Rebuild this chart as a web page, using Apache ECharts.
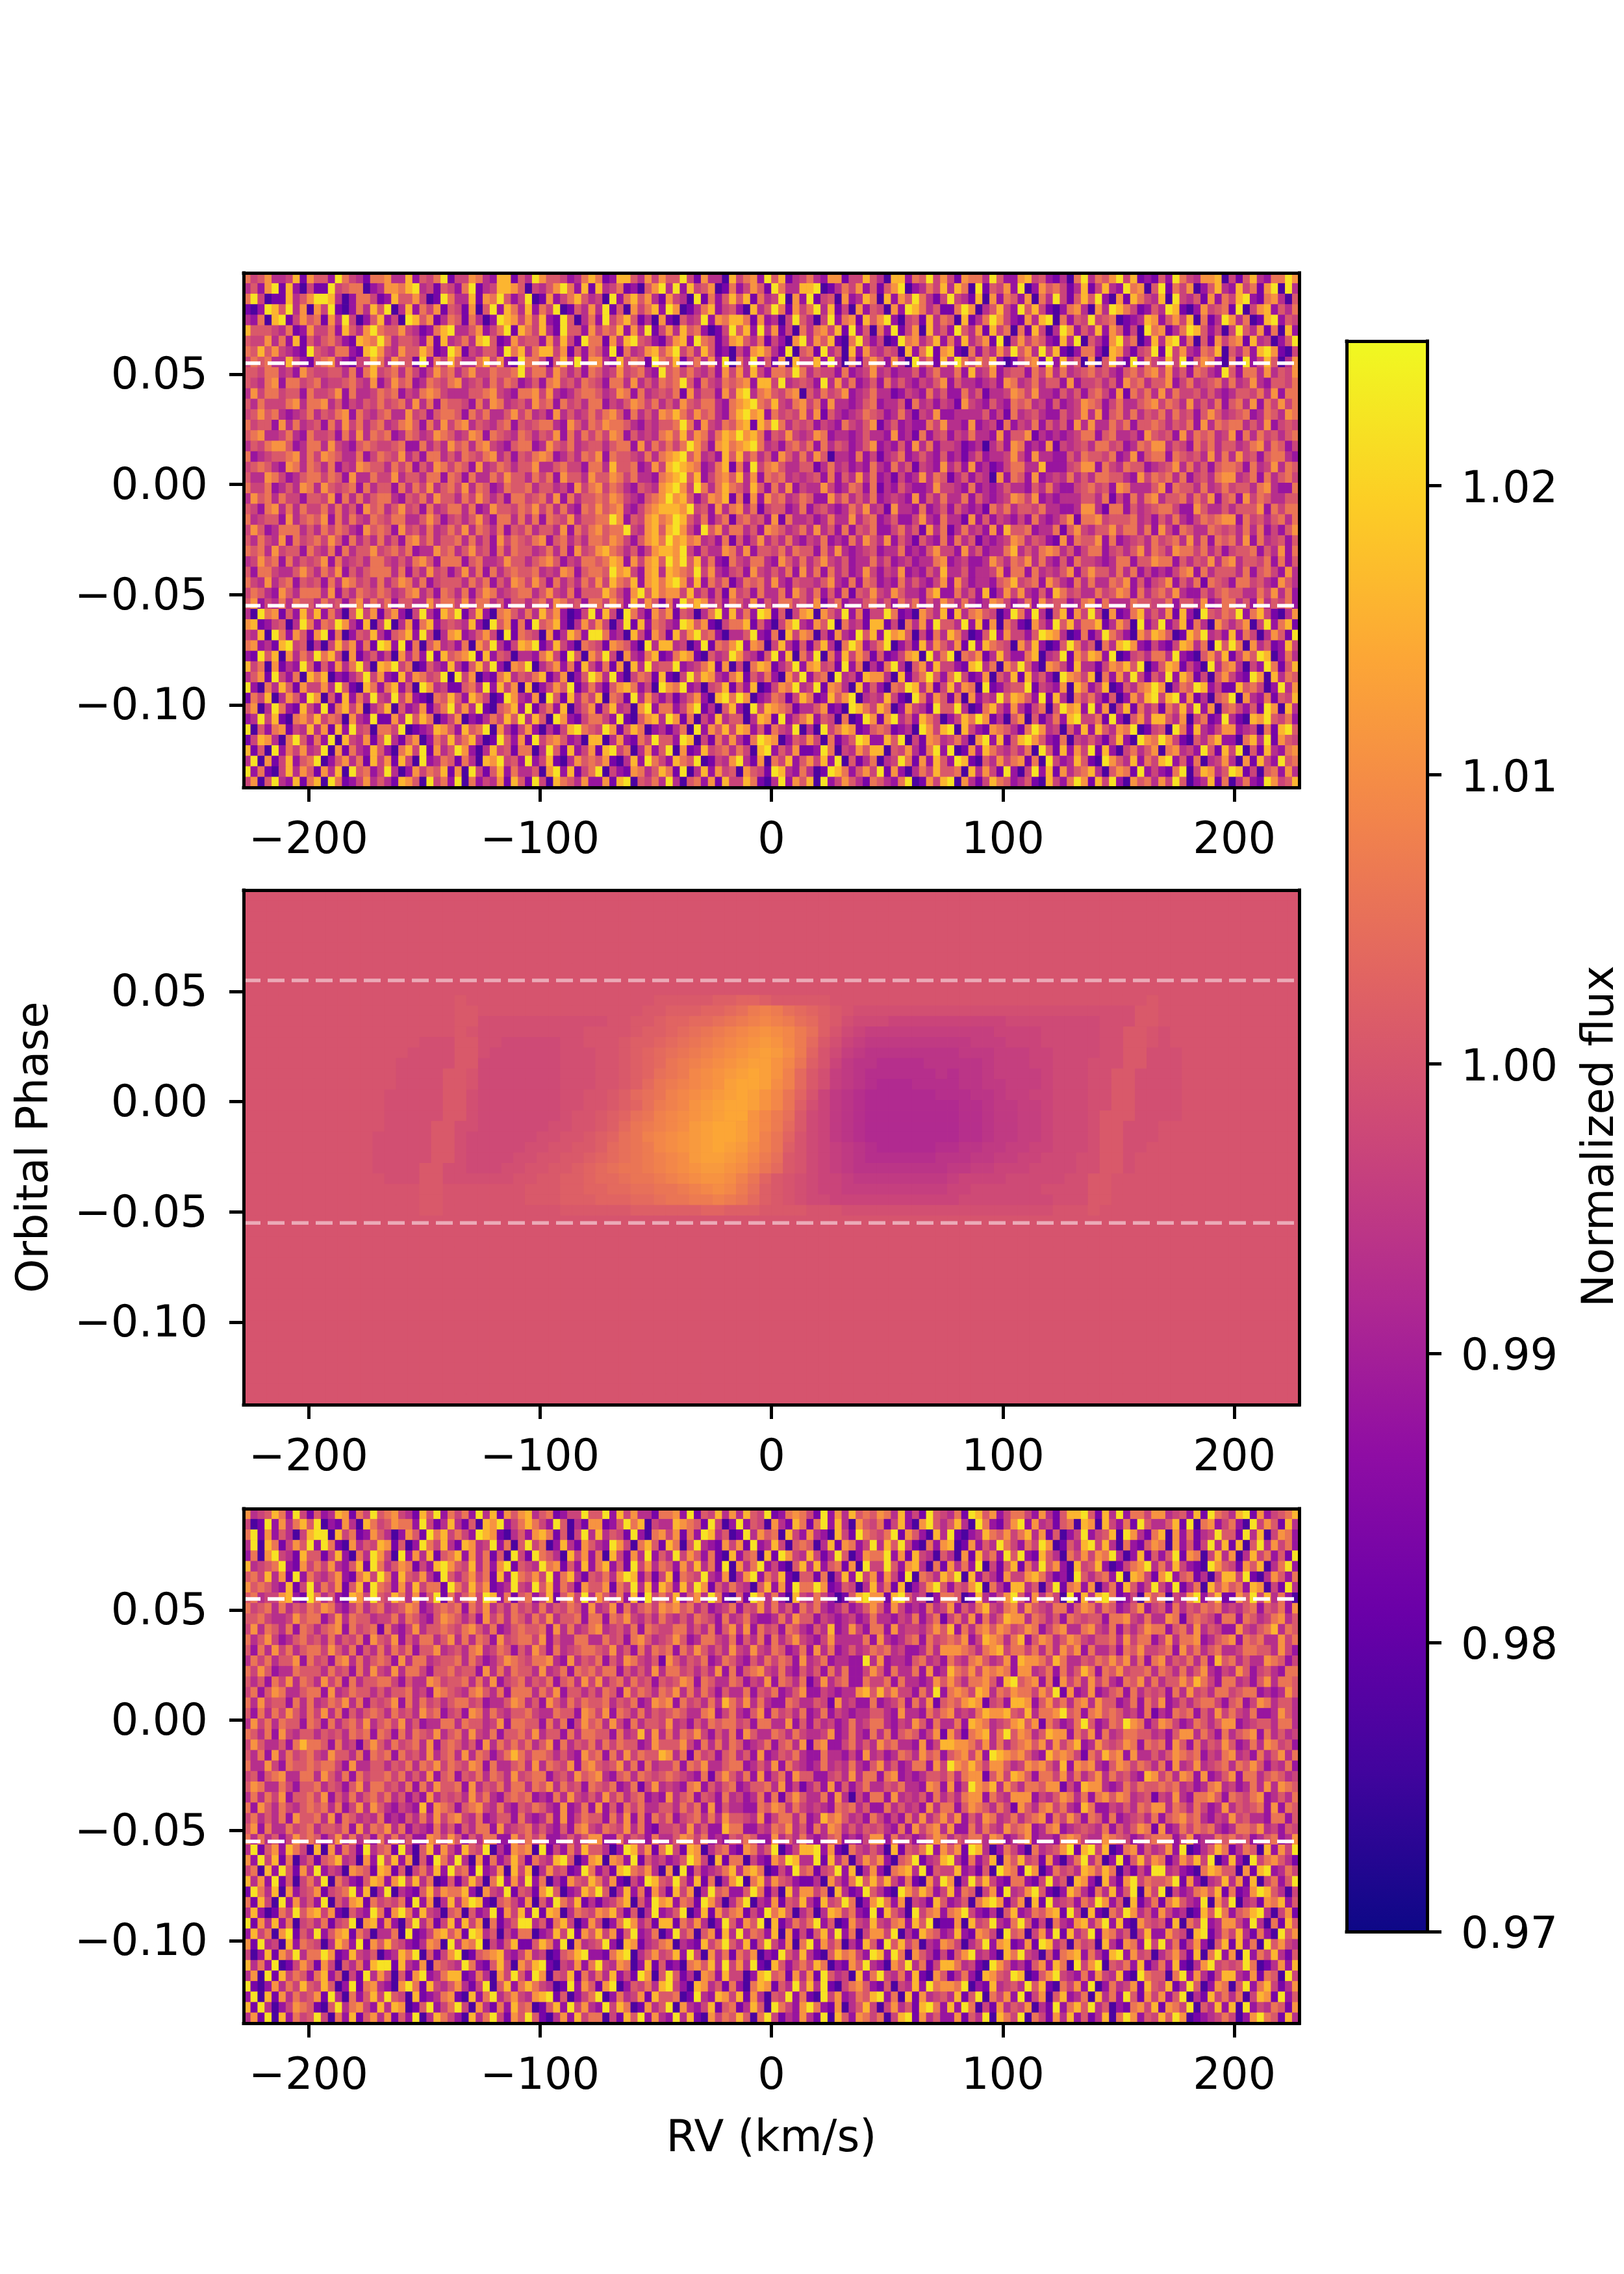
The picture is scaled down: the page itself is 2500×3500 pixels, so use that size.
<!DOCTYPE html>
<html>
<head>
<meta charset="utf-8">
<title>Normalized flux maps</title>
<script src="https://cdn.jsdelivr.net/npm/echarts@6/dist/echarts.min.js"></script>
<style>
  html, body { margin: 0; padding: 0; background: #fff; }
  #main { width: 2500px; height: 3500px; }
</style>
</head>
<body>
<div id="main"></div>
<script>
// Axis ranges and ticks
const rvRange = [-228, 228];
const phaseRange = [-0.1375, 0.096];
const fluxRange = [0.97, 1.025];
const rvTicks = [-200, -100, 0, 100, 200];
const phaseTicks = [-0.1, -0.05, 0, 0.05];
const fluxTicks = [0.97, 0.98, 0.99, 1.0, 1.01, 1.02];
const transitPhases = [0.055, -0.055];

const plasma = ["#0d0887", "#41049d", "#6a00a8", "#8f0da4", "#b12a90", "#cc4778",
  "#e16462", "#f2844b", "#fca636", "#fcce25", "#f0f921"];

// Digit in the noisy panels -> flux
const noiseLevels = [0.977, 0.983, 0.988, 0.993, 0.997, 1.001, 1.006, 1.011, 1.016, 1.022];
// Letter in the model panel -> flux
const modelLevels = { a: 0.99, b: 0.991, c: 0.992, d: 0.993, e: 0.994, f: 0.995, g: 0.996, h: 0.997, i: 0.998, j: 0.999,
  k: 1.0, l: 1.001, m: 1.002, n: 1.003, o: 1.004, p: 1.005, q: 1.006, r: 1.007, s: 1.008, t: 1.009,
  u: 1.01, v: 1.011, w: 1.012, x: 1.013, y: 1.014 };

const observedRows = [
"6457334817 5529643166 7338254691 4476328815 3975542368 6128853747 5594173308 4672958134 6327714485 3088265947 4176639522 7845213069 3657948121 5296437780 4158326697",
"3527918204 1194566023 7768934154 2691348875 0435796281 8346120579 3928457016 2475196338 8901364725 1579023648 3860915472 9027564138 1483296705 9164702583 2846179093",
"6940118357 9983026641 2855740196 3381769524 9017246853 4092685731 7430916258 5816349072 9145072386 0827596314 9431807265 2706394158 5920718643 8094351726 4892167305",
"1029859370 7491026385 9038264715 4170592863 8264901537 3915074682 9701368245 2083596174 6938140725 4072986351 1697035842 9584102673 0739864125 3981027456 1904782536",
"3260891475 6173940258 2409857136 5163029874 7482195036 2946851307 1053492768 8617230495 3049267185 7920451836 5081369742 1738906254 9456012387 2574806139 7360189254",
"8555436127 4462853796 5574312689 3357246918 6483195527 4658273914 7385620149 5829371406 3674819250 6291470835 2953718460 6184039725 3827514096 7136985240 4953716082",
"5447362815 3564218769 6355427183 4638951274 5527384196 6173895421 4782965137 8536142079 3758106942 4019673582 6283571904 7465218390 5317946028 3892605174 6718340259",
"6585743219 5436621897 4375586129 7143552968 3688471526 5291634785 7946385120 4278631905 6193508274 3540826917 8106253749 5739481026 6208731459 1947326580 5362897104",
"4656338421 5673214486 3755192648 5336847219 6641583927 7328465196 5814637290 6392517084 4829306157 5273094618 3964758201 4671928350 7058319264 3849157620 6192485037",
"5546634275 4455362684 5636424756 3574465569 4663753526 5347456329 5646435274 7384266596 3544262347 3423352463 3628347245 5264736345 6453256467 4735265329 5266373547",
"5436726645 6344564372 4756236546 7345364652 3526745365 4266373536 5695264365 6728849345 4293736235 2635324357 2533234276 3463552724 4535275635 5724634563 6347325546",
"3746645526 4457263346 5624367643 3355674326 6747323566 5347626345 4617355274 8936754670 5364572346 3312432635 2263513347 6473325352 5642716463 7364453532 3554637266",
"5364446736 6735243546 4563736265 5426376345 3756264536 6243576463 5375466326 7896584367 4627332356 2335163424 3174325326 5634252347 6524633567 4653735362 5637264746",
"4575632346 3546726435 6337452566 5264633574 6342735346 4675263537 6864756326 8978264547 3715323465 4236314372 2333352416 3453225347 3725636354 6364525753 4562365376",
"6455273634 5263746356 3467526374 6735435625 4566327536 5766532435 5696274365 7818696354 5243264357 1352322647 3327234162 4362535273 7336462556 5354627365 6635372454",
"5673346326 4452637365 6236534765 3476265436 5354726364 6476253436 7584763687 9786254743 4762332353 3272316245 2436332725 5713232346 6256334275 4527365634 7263645356",
"3546775236 6374325654 4562263537 5636743256 6237546345 5356627364 6469752786 7896342564 6263542357 2325273624 4312303527 6232714345 3664523657 7354264635 5346736524",
"6234556736 4765336246 5473526635 3654673525 4676235365 7265543636 7895734285 8463527536 3750332624 1346235325 2313523347 4273322536 5546237256 6265453736 3745256632",
"4565327636 5362437655 3646253764 6527346535 5733564426 6385562374 8987623681 6294675335 5136342326 3263514327 3527231246 6338222457 7264365523 4573635256 6526347365",
"5337642356 6465273364 4735536626 5263364755 3646275537 5576463326 7895824675 8372656343 4526253736 2314237365 1352430726 5272343635 3665532746 5636245367 7346263564",
"6446235376 3754562635 5263647356 4736523655 6355342746 7465325437 8974963686 5385263724 3374236526 1325322374 4326232353 3253632245 6452763335 7265536346 4553673226",
"3756364425 5472636356 6325463755 3647535266 4563726355 6576432567 9785247681 6172756346 5227463536 2343272536 3362532347 6472323335 5361426367 3556364725 6274653355",
"5426736364 4636352756 3574526346 6362375546 5746363265 7567324678 8879452736 7361455236 2453236473 4173326235 2532316463 5546332237 7316625345 6642275335 3555726466",
"6345527356 5726364365 4663357524 5357426636 3626547355 6697254786 7985362461 5645271633 4236337356 2352247326 3317252432 4263235716 6745556342 5363246567 7264535636",
"4752366635 3646532756 5274536346 4736536254 6355372646 7566943785 8974295736 6352765346 3735262546 2246351736 1363427285 5623361574 3557466362 7426533654 5363624257",
"5364372645 6475263536 3526746355 6363527465 4672563536 6576425786 9786734261 5247353632 4362326375 3725315326 2635132347 6354217265 5726234536 4563736265 6372634525",
"6563745526 4362635574 5646233756 3574526365 5346362745 7865352478 8794253376 3725546365 5263732345 2336232574 4273523368 3536763524 6624535736 5376646352 4556253726",
"3475626354 5726345366 4353675266 6256334755 3567524366 5687274785 9795836216 4366327536 3574352336 3523423367 2342237536 5736325264 4323662557 6625354736 7355462625",
"5266433575 3647253566 6362537452 4736263565 5634376256 6597842783 8765947324 5274353627 3626352374 2437232538 3352334726 6263435725 7553636242 3246726355 5362564273",
"6437356254 5263764536 3576362455 5364625376 4752635364 7486582786 8973826461 3656373254 4357326265 2326353247 2742332568 4562753263 6336572524 5725361654 2664532753",
"4653275366 6372536546 5346735265 3625763456 6357436255 5864279586 7748352517 4526336275 3625261547 4375332682 2635281374 7325286453 3645762635 6473225356 5533647362",
"5724363655 3645257364 6255337466 4736635255 3563764526 6475283751 6296873526 5372536645 3714623356 3526462537 5363237642 3627455236 7263336554 4625537236 6352735462",
"3096715284 8263059471 5720493186 9148206753 6385720149 2840963175 7154036928 3629815047 8075392614 4961207538 1836754029 6293058174 9407126835 3718209546 5926841037",
"7812450396 2659731804 9037168245 4382095716 1956820374 7403918265 3298571046 6815204793 2759063418 8140637295 5392817064 1074295836 6813750924 9248163075 3570492681",
"4380962751 7916025483 1568294037 8235740916 5407138629 9623084175 1847956203 3592160847 6041732958 2978504163 8630159274 4259873016 1396420758 7501869342 8264037519",
"6723189450 3048572619 8291605734 2607593148 7913842065 4176520938 8340291657 9276048315 1583069724 6902418375 3719286540 7482015963 5063897214 2148736095 9607351284",
"2195807364 9684071352 4073629185 6791825403 3268419507 5940732681 2687105349 7431592806 3906284751 5124780936 9065713842 2680349175 8729014536 6392105748 1475980263",
"8460713295 1527369408 7946015328 3158492076 9035726184 2617083945 5923468170 4068713592 7845192603 1693057284 4218936075 9520764183 3147685902 5871420936 7304296158",
"3571942608 6802135947 2183764590 9470216835 4681370259 7392046518 1049587326 8153620749 2560934187 7308146952 6941270538 1835209764 8062739415 3928614057 4219708365",
"9206385174 4739510862 6825097341 1563928470 8024759136 3157862409 7692304581 5280147693 4917630825 2065983714 8376091245 5914327086 2480153679 7036598241 1856402937",
"1648037529 7051826394 3947210658 5286401973 2709518364 8065193742 4135720896 9702365148 6128579034 3841096275 1607243958 7529183064 6315027489 4892713056 9073261548",
"5703962184 2916847035 8052371469 4739105682 9146280357 1583407926 6247913058 2094876513 3571209864 8602743195 5930168427 3146059782 9270481635 1648392705 6425197083",
"2394810675 8465073291 1739586024 7021364859 3850972146 6429105783 9716042835 5038719246 8254060197 1793528640 2486971305 7051362894 4619205738 8537046129 3108795462",
"9052671438 3718294506 6490123875 2856907314 7203148965 4971586023 1360927584 8725164390 3094687125 6512309748 9084217653 1697340528 2853769014 5096183247 7234061895",
"1487306952 6290843715 9315702648 4683019527 1946752308 8037216495 5298041637 3169870254 7406135982 2859041763 4630792815 8975216043 5314820976 9741053682 2068391754",
"8150926473 4907163285 2068491735 9720384516 6039518247 1894603725 9071284563 6408925371 1296043758 8054731692 9017286435 3609518274 9182046357 0673429518 4905183267",
"3907148256 9025736184 7184092365 1630879452 9248103756 5710382964 2865901437 9317064825 7482905136 0349617285 2981053746 7160942385 1097538264 8925160347 3071842956",
"9261048375 1738095624 9302746581 7094158263 3507928146 9042176358 6190382745 0754198326 3019862574 9172036485 5608374192 0492817356 8305761924 2169048735 9814056273",
"4705932816 8096124735 3187509462 9062437185 1940865372 2718905463 9305627184 4861039275 8092475316 5326901748 9073148652 3510842697 1849207563 7495023816 0362197458"
];

// Model panel, only rows 10-30 differ from the flat 1.00 background
const modelFirstRow = 10;
const modelRowCount = 49;
const modelRows = [
"kkkkkkkkkk kkkkkkkklk kkkkkkkkkk kkkkklllll mmnnmlllll kkkkkkkkkk kkkkkkkkkk kkkkkkklkk kkkkkkkkkk",
"kkkkkkkkkk kkkkkkkkll kkkkkkkkkk kkkkllmmmn noprsrponm lkjjjjjjjj jjjjjjjjjj jjjjjjllkk kkkkkkkkkk",
"kkkkkkkkkk kkkkkkkkll jjjjjjjjjj jkkllmnnoo pqrstsrpom ljiiihhhhh hhhhhiiiii iiijjjllkk kkkkkkkkkk",
"kkkkkkkkkk kkkkkkkklk jjjjjjjjjk kkklmmnopq rstuvutrpm kihggggggg gggghhhhii iiijjllkjk kkkkkkkkkk",
"kkkkkkkkkk kkkkkjjjll jjiiiiijjk kklmmnopqr stuvwvtrol jhgfffffff ffggghhhii iiijjllkjk kkkkkkkkkk",
"kkkkkkkkkk kkkkjjjjll jiiiiiijjj kklmnopqrs tuvwxwurnk igfeeeeeee efffggghhi iiijjlljjj kkkkkkkkkk",
"kkkkkkkkkk kkkjjjjjll iiiiiiijjj kklmnoqrst uvwxxvtqmk hfeeddddee eeefggghhi iijjjlljjj kkkkkkkkkk",
"kkkkkkkkkk kkkjjjjllk iiiiiiijjj kklmnpqrtu vwxyxvsolj gfedddddde deefgggghi iijjlljjjj kkkkkkkkkk",
"kkkkkkkkkk kkkjjjjllk iiiiiiijjj kklmoqrstu vxyyxusolj gfedcccddd deeffggghi iijjlljjjj kkkkkkkkkk",
"kkkkkkkkkk kkjjjjjllj iiiiiiijjk klmopqstuv wxyxvtqnkh fedccccccd ddeefgghhi iijjlljjjj kkkkkkkkkk",
"kkkkkkkkkk kkjjjjjllj iiiiiiijjk klmnprstvw xyyxvtqmjh fedccccccc cddeffgghi iijjlljjjj kkkkkkkkkk",
"kkkkkkkkkk kkjjjjjllj iiiiiiijkk lmnpqstuvw xyyvtrplih fedccccccc cddeffgghi iijllljjjj kkkkkkkkkk",
"kkkkkkkkkk kkjjjjlljj iiiiiijjkk lmoqrstuwx yyxvtrolih fedccccccc cddeffgghi iijlljjjkk kkkkkkkkkk",
"kkkkkkkkkk kjjjjjllji iiiiijjkkl mnpqstuvwx yyxvsqnkih fedccccccc cddeffgghi iijlljjjkk kkkkkkkkkk",
"kkkkkkkkkk kjjjjjllji iiiijjkkll mopqrtuvwx yxwusqmkih gfedcccccd deeffgghhi iijlljjkkk kkkkkkkkkk",
"kkkkkkkkkk kjjjjjllji iiijjkkllm nopqrstuwx xwvtrplkih gfedddddde eeffgghhii ijjlljkkkk kkkkkkkkkk",
"kkkkkkkkkk kjjjjlljji iijjkkllmn opqqrstuvw wvusqolkih gfeeeeeeee ffgghhhiii ijjlljkkkk kkkkkkkkkk",
"kkkkkkkkkk kkjjjlljjj jjjkkllmmn oopqqrstuv vusqnlkjih hgffffffff ghhhhiiiii jjllkkkkkk kkkkkkkkkk",
"kkkkkkkkkk kkkkkllkkk kkkklllmmn nooppqqrst utrpmlkjih hggggggggg hhiiiiiijj jjllkkkkkk kkkkkkkkkk",
"kkkkkkkkkk kkkkkllkkk kkkklllmmm nnnoopqqrr srqomlkjii hhhhhhhhhh hiiiiiiiij jjllkkkkkk kkkkkkkkkk",
"kkkkkkkkkk kkkkkllkkk kkkkkkklll lllmmmmmmn nmmmllllkk kjjjjjjjjj jjjjjjjjjk kklkkkkkkk kkkkkkkkkk"
];

const residualRows = [
"7345862941 5238716495 6743185926 4629381757 8356124495 5928473316 6729154837 3854912676 4192738565 7638241954 3619857246 6427315889 5183926647 7345281965 3891724568",
"4019273685 9021730864 5766294138 3150879246 8642950317 7125968043 3876519402 9254073186 1692830754 6148207953 5830962147 9273415608 7084261953 3581906724 6209475183",
"6917253048 9908461275 3027519684 6429871035 2786150493 8354192067 4716298350 1937560842 7320841965 4691752083 9102386574 6837150249 2458097316 8072613495 5193804762",
"3908614759 2961073548 7150296483 1873492605 9460283175 3297406851 8605932174 7192384056 5038176249 3859410627 8017253964 2649701538 9483062157 6072514938 1805937462",
"2607943185 5148206397 4092738156 8273615094 1965308472 6084173925 3947526108 2560819743 8413950276 6927184305 3071846295 9218530647 4769302815 2591760483 7038462519",
"8345692174 6473258196 3576142897 5483627915 4396715282 6825194736 5274836190 7369241058 3825617094 4952783061 7362904158 1639572084 5820146793 6384210975 4175803692",
"5648371926 4357216849 6285473195 3574618296 5749268315 4637982514 8165493270 3792648105 5160382947 2741906538 6908253174 4786312095 3562908741 7925613048 8491037526",
"7565328149 3647158296 5273846619 6485712394 3958264175 5716493828 6284971536 4305827196 6971254038 3618024795 2547906318 8350491672 7036185249 4291360857 5628704193",
"5634478219 6352187495 4863725916 3574982615 6248157493 7536281946 4825739610 5197362084 3642015897 7189534026 6501832479 5273640918 3896124075 6043792581 1759483620",
"6456363546 5763246356 3457623565 6264735364 5363546527 3472635647 6756352346 2547363526 4632352357 5274232634 7253684367 3754366257 6365235724 5263546563 4356254627",
"5564334756 6247365534 4636532576 5352746365 3647355626 6265743536 4353654263 4632236375 5243234236 3324362461 4637263587 7365352654 5526674363 3761565426 6265346735",
"4736536265 3567264561 6324735565 4675362356 5562736346 7345362654 4663536257 3726452653 2538237426 6273443575 8263675764 5762467336 7436253576 6256373542 2743568365",
"6357423564 5363546275 4725366357 3636527456 6472533663 3645267534 5752366436 2536263574 3247333362 7323562645 6572487636 8257635764 3556374662 4736672356 7265633746",
"5263746356 6475362536 3646255734 5367346525 3752634566 5473526365 6264753537 4374365236 2736235346 5634223637 7765367846 6463637572 6335265744 5627463563 3466553742",
"3646355726 4526736356 5273663455 6364235765 4667327354 6253764351 7535462365 3253646527 3462332293 7233256342 6436753472 8776486335 4657573626 7354636285 6353376524",
"6475233655 5364526374 3736642556 4552736365 5373462656 4662535373 6645353726 2567436325 3526362247 5263362723 8657476762 7734626358 6265745563 6536357324 3752453266",
"5352647365 3746263556 6425337645 5636372456 3546256374 7356364525 4576265336 5243726536 1373562264 4626332375 7536675289 5672617463 7463265736 3557586426 6342573665",
"4625763356 6273465535 3556342765 4367536266 6364725535 3652746536 5736364253 3625462357 2243233785 8574426392 6764873657 6647591723 7235626354 5263745366 4566232375",
"6374552636 3465736254 5726364535 6645233576 3527536465 5635462376 7264536386 4736322653 3541734226 2346263715 6578714528 8725746367 3755236264 7235356642 5624763553",
"5263647536 4736253565 3645375624 5276364355 6433655276 4726536354 5653367246 3257264536 2362432335 5327332646 7343687785 4836679562 6756534261 3265625374 6436223753",
"3746365526 5263564735 6473523366 3655347266 5526361475 6374263554 7342536566 4526633725 2534236346 6324375263 3628763457 8571642369 5236597624 7642365357 7234553663",
"6536274355 3545365626 5263654735 6374362556 4735526366 5526348373 6365742536 2753365364 3347236326 3625652471 7416783695 7635877264 7263466553 4257736426 3567263534",
"4753352686 6526341575 3645637256 5352736464 6357263546 3646552375 5574263636 5234625637 1672246353 7563327248 8776473635 6757374682 3754576265 6275263547 5236376452",
"5362736456 4375536265 6264537356 3736524686 4665353275 6263746558 7361645256 3527235463 2263324273 4236537562 5674729876 7532867641 6486727335 3576562436 7342635736",
"6337426556 5664273355 3546365746 5476263356 3736547267 5457362634 4626573356 6235372643 2363436325 7352366274 9768647753 4767538276 7325764653 6273473456 3657524362",
"4525673366 3753626455 6463537256 2546365374 5662453756 7325636545 6543261575 3627246275 5224537366 2672323554 6367715748 7526647363 5736453287 4637627235 7266356534",
"5763364255 6354257366 4536263755 6273546366 3657364526 5462361473 4326725356 2355637241 3527252463 3546332762 7249768375 3665771428 7732364655 6563423673 4236373765",
"3636472556 4725363564 6352427354 5374632565 6232637435 3746356232 7356254263 4236261575 3362730426 6273435263 5367726437 7724357636 2675763451 4373266752 6546723536",
"6275364356 5636247375 3243282765 2567436325 4653272362 7252646335 5364627253 3226576364 3432656352 2635342736 6257653641 7536746328 6224353657 7365364237 3545627265",
"4635362755 6372653436 2325363746 7436235526 3236272465 5263726264 6245636375 5437246636 2386753426 4242637357 4725376346 3567264752 6526234536 2567563243 7453326625",
"5726336456 3554627365 7362432635 2536627345 6353252674 3654736214 4537352286 6224365735 2637635354 5326274673 7226364375 6723672345 4362535761 7236465632 3665734254",
"6363524756 5247363526 3635227647 5253662274 6462235357 7226354263 3576462325 4652273536 3235623247 7263423576 3546637623 5723326764 3376542356 6624723365 6452356237",
"3915728640 8072641935 6193058274 2854903176 7091426385 5302984716 9418703562 1763590248 8927106435 3081546927 5719830264 2063457918 9480167253 4729013586 1365082749",
"7294816035 1568340729 4827051963 9307162485 1643895027 8076291534 2359740816 6042175983 3918360475 7205691348 9316248075 8451720369 3602915847 6137584902 8209467531",
"4608295173 9243076518 7150463829 5619237084 8037451296 2418965730 7091523468 3786014295 6145928037 2067839154 4823150976 1970264538 7586031429 9342106875 5071892364",
"8372915046 3906421587 2794836015 1485069273 9260317548 6371042985 4952816037 9068375421 1307426958 5842610739 7039584216 6214935087 2083179465 5691720348 3718046259",
"1963807245 7145692803 9032158476 6820743915 4179502386 9503826174 1847039562 2596140837 7460831295 3109758624 8265047193 4795102863 1638259074 9042367581 6127985304",
"6184092735 2905378164 5461927038 3798105642 7052964813 1346805297 8265197403 6903271548 3184596027 9627043185 2350689714 7081934526 4972508136 1685329074 9034176825",
"3820164957 8471053296 1796284305 6052391748 2918703654 7684150392 3590281746 7142968503 5038746219 1853094672 6794213058 2365781940 8106497352 7423018596 2568930471",
"9173826045 3614590782 7205936148 2847061359 9351684027 4026973518 8164730295 2759081364 6925017438 4367285901 1708459326 9514063278 3692810754 5180649237 7429306185",
"2846079153 9257816403 3609124785 7198350426 6023849175 8471592360 2946057183 9365280714 1583926047 7490318652 3821764095 6047291835 9176350482 2754089136 4831620957",
"7193408265 4038629175 8542137609 3769042581 1586290734 5920871346 7032184695 3815942706 9274603185 1958460327 6403592781 2719835064 5083176294 9361472058 1826095743",
"4028175936 6971284350 2386905147 9015678324 7340156892 2168903574 5829407361 6470219538 3105867429 8296075314 1579342086 9430516782 6318927450 3574180692 7092648315",
"8362901475 1740536289 9183270654 3962158407 5891043726 9437602815 1206758394 7391085246 4860217593 2075936148 8634109752 3157286094 7905462813 6281037945 4596013728",
"3709184652 6825041937 4051792368 8126307495 2970548163 6382419705 9513076284 4028956173 7195340826 9436281075 1362087549 8015794326 2743810965 5069273148 8327165094",
"9102736485 4850291673 2079618435 7314905826 8643019275 1790254638 9420873516 2068715394 8391046752 1504382967 7690218345 3958106472 9026347185 4813950276 0592684137",
"2908173645 7193062584 9540812367 1082693574 3789150246 9026347185 5601932874 8173054926 1094723658 9260817345 3815906472 9147058236 0836295174 7259031846 3604871925",
"8193024765 1059367428 3870159246 9407316285 6015829473 2948601735 9073248156 1385096427 9621703584 0473518962 8296041735 4703192685 9350216748 1764905382 8092436517",
"3719082645 9406281573 7152903864 2083694175 9510372846 6041859273 2938107465 8506941327 3190852764 6048917352 2715390864 9064173825 1380697254 8597012346 4027965183"
];

function parseNoise(rows) {
  const cells = [];
  const grid = rows.map((r) => r.replace(/\s/g, ""));
  grid.forEach((row, r) => {
    for (let c = 0; c < row.length; c++) {
      cells.push([c, rows.length - 1 - r, noiseLevels[+row[c]]]);
    }
  });
  return { cells, cols: Math.max(...grid.map((r) => r.length)), rows: rows.length };
}

function parseModel(rows) {
  const cells = [];
  const grid = rows.map((r) => r.replace(/\s/g, ""));
  const cols = grid[0].length;
  for (let r = 0; r < modelRowCount; r++) {
    const row = grid[r - modelFirstRow];
    for (let c = 0; c < cols; c++) {
      cells.push([c, modelRowCount - 1 - r, row ? modelLevels[row[c]] : 1.0]);
    }
  }
  return { cells, cols, rows: modelRowCount };
}

const panels = [
  { top: 420, data: parseNoise(observedRows), lineOpacity: 1 },
  { top: 1370, data: parseModel(modelRows), lineOpacity: 0.5, yName: "Orbital Phase" },
  { top: 2322, data: parseNoise(residualRows), lineOpacity: 1, xName: "RV (km/s)" },
];

const FONT = "DejaVu Sans";
const FS = 67;
const spine = { show: true, onZero: false, lineStyle: { color: "#000", width: 5, cap: "square" } };
const tick = { show: true, length: 22, lineStyle: { color: "#000", width: 5 } };
const frameAxis = {
  z: 5,
  axisLine: spine,
  axisTick: { show: false },
  axisLabel: { show: false },
  splitLine: { show: false },
  splitArea: { show: false },
};
const label = { color: "#000", fontFamily: FONT, fontSize: FS };
const minus = (s) => s.replace("-", "\u2212");
// matplotlib centres the digits on the tick, the rich box nudges them down to match
const nudged = (pad) => ({ a: { ...label, padding: [pad, 0, 0, 0] } });

const grids = [], xAxes = [], yAxes = [], series = [];
const heatIdx = [];

panels.forEach((p, i) => {
  grids.push({ left: 375, width: 1625, top: p.top, height: 792, show: true, backgroundColor: "#d6546e", borderWidth: 0 });

  // category axes carry the cells and draw the top and right spines
  const xCat = xAxes.length;
  xAxes.push({ ...frameAxis, type: "category", gridIndex: i, position: "top", boundaryGap: true,
    data: Array.from({ length: p.data.cols }, (_, k) => k) });
  const yCat = yAxes.length;
  yAxes.push({ ...frameAxis, type: "category", gridIndex: i, position: "right", boundaryGap: true,
    data: Array.from({ length: p.data.rows }, (_, k) => k) });

  // value axes carry the ticks, labels and transit lines
  const xVal = xAxes.length;
  xAxes.push({
    ...frameAxis, type: "value", gridIndex: i, position: "bottom", min: rvRange[0], max: rvRange[1],
    axisTick: { ...tick, customValues: rvTicks },
    axisLabel: { ...label, show: true, margin: 50, customValues: rvTicks, formatter: (v) => minus(String(v)) },
    name: p.xName || "", nameLocation: "middle", nameGap: 146, nameTextStyle: label,
  });
  const yVal = yAxes.length;
  yAxes.push({
    ...frameAxis, type: "value", gridIndex: i, position: "left", min: phaseRange[0], max: phaseRange[1],
    axisTick: { ...tick, customValues: phaseTicks },
    axisLabel: { ...label, show: true, margin: 55, rich: nudged(10), customValues: phaseTicks,
      formatter: (v) => "{a|" + minus(v.toFixed(2)) + "}" },
    name: p.yName || "", nameLocation: "middle", nameGap: 286, nameTextStyle: label,
  });

  heatIdx.push(series.length);
  series.push({
    type: "heatmap", xAxisIndex: xCat, yAxisIndex: yCat, data: p.data.cells,
    progressive: 0, silent: true, z: 2, itemStyle: { borderWidth: 0 },
  });
  transitPhases.forEach((ph) => {
    series.push({
      type: "line", xAxisIndex: xVal, yAxisIndex: yVal, showSymbol: false, silent: true, z: 3,
      data: [[rvRange[0], ph], [rvRange[1], ph]],
      lineStyle: { color: "#fff", width: 5.5, type: [26, 11], opacity: p.lineOpacity },
    });
  });
});

// colorbar
const cb = grids.length;
grids.push({ left: 2073, width: 129, top: 525, height: 2448 });
const cbX = xAxes.length;
xAxes.push({ ...frameAxis, type: "category", gridIndex: cb, position: "bottom", data: ["flux"] });
xAxes.push({ ...frameAxis, type: "category", gridIndex: cb, position: "top", data: ["flux"] });
const cbY = yAxes.length;
yAxes.push({
  ...frameAxis, type: "value", gridIndex: cb, position: "right", min: fluxRange[0], max: fluxRange[1],
  axisTick: { ...tick, customValues: fluxTicks },
  axisLabel: { ...label, show: true, margin: 52, rich: nudged(16), customValues: fluxTicks,
    formatter: (v) => "{a|" + v.toFixed(2) + "}" },
  name: "Normalized flux", nameLocation: "middle", nameGap: 235, nameRotate: 90, nameTextStyle: label,
});
yAxes.push({ ...frameAxis, type: "value", gridIndex: cb, position: "left", min: fluxRange[0], max: fluxRange[1] });
series.push({
  type: "bar", xAxisIndex: cbX, yAxisIndex: cbY, data: [fluxRange[1]], barWidth: "100%", silent: true, z: 2,
  itemStyle: {
    color: new echarts.graphic.LinearGradient(0, 1, 0, 0,
      plasma.map((c, i) => ({ offset: i / (plasma.length - 1), color: c }))),
  },
});

const chart = echarts.init(document.getElementById("main"));
chart.setOption({
  animation: false,
  backgroundColor: "#fff",
  grid: grids,
  xAxis: xAxes,
  yAxis: yAxes,
  visualMap: {
    show: false, type: "continuous", seriesIndex: heatIdx, dimension: 2,
    min: fluxRange[0], max: fluxRange[1], inRange: { color: plasma },
  },
  series: series,
});
</script>
</body>
</html>
